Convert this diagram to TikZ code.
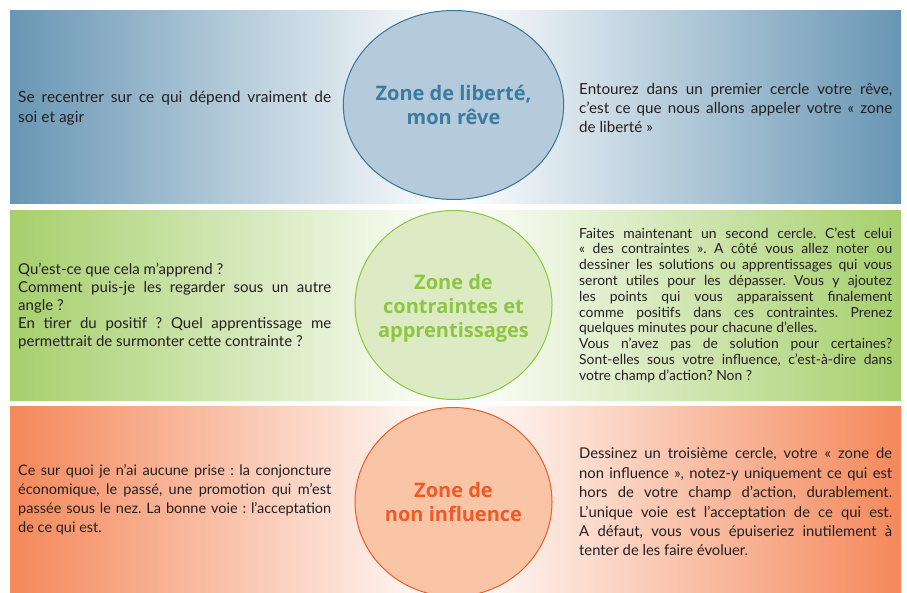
\documentclass[tikz,border=0pt]{standalone}
\usepackage{fontspec}
\setmainfont{Lato}
\newfontfamily\titlefont{Open Sans}
\usetikzlibrary{shapes.geometric}
\definecolor{bandblue}{HTML}{6896B4}
\definecolor{bandgreen}{HTML}{A6CF6C}
\definecolor{bandorange}{HTML}{F4885A}
\definecolor{circblue}{HTML}{B5CADB}
\definecolor{circgreen}{HTML}{DCEBC4}
\definecolor{circorange}{HTML}{FAC5A6}
\definecolor{edgeblue}{HTML}{3B7597}
\definecolor{edgegreen}{HTML}{8DC63F}
\definecolor{edgeorange}{HTML}{EF5A28}
\definecolor{titleblue}{HTML}{3B7BA0}
\definecolor{titlegreen}{HTML}{8DC63F}
\definecolor{titleorange}{HTML}{F15A24}
\definecolor{txt}{HTML}{231F20}
\tikzset{
  zone/.style={ellipse, minimum width=197pt, minimum height=189pt, inner sep=0pt, line width=1pt, align=center, font=\titlefont\fontsize{20}{24}\selectfont\bfseries},
  desc/.style 2 args={anchor=west, inner sep=0pt, text width=313pt, align=justify, text=txt, font=\fontsize{#1}{#2}\selectfont\frenchspacing}
}
\begin{document}
\begin{tikzpicture}[x=1pt,y=-1pt]
        \useasboundingbox[fill=white] (0,0) rectangle (907,592);

        \shade[left color=bandblue, right color=white] (10,10) rectangle (453.5,203);
        \shade[left color=white, right color=bandblue] (453.5,10) rectangle (901,203);
        \shade[left color=bandgreen, right color=white] (10,210) rectangle (453.5,400);
        \shade[left color=white, right color=bandgreen] (453.5,210) rectangle (901,400);
        \shade[left color=bandorange, right color=white] (10,406) rectangle (453.5,592);
        \shade[left color=white, right color=bandorange] (453.5,406) rectangle (901,592);

        \node[zone, fill=circblue, draw=edgeblue, text=titleblue] (liberte) at (453.5,105) {Zone de liberté,\\mon rêve};
        \node[zone, fill=circgreen, draw=edgegreen, text=titlegreen] (contraintes) at (453.5,305) {};
        \node[zone, text=titlegreen] (contraintestitre) at (453.5,308) {Zone de\\contraintes et\\apprentissages};
        \node[zone, fill=circorange, draw=edgeorange, text=titleorange] (influence) at (453.5,502) {Zone de\\non influence};

        \node[desc={15.5}{20}] (liberteg) at (18,108) {Se recentrer sur ce qui dépend vraiment de\linebreak soi et agir};
        \node[desc={15.2}{19}] (liberted) at (579,108) {Entourez dans un premier cercle votre rêve,\linebreak c’est ce que nous allons appeler votre «~zone\linebreak de liberté~»};
        \node[desc={15}{18}] (contraintesg) at (18,306) {Qu’est-ce que cela m’apprend~?\newline Comment puis-je les regarder sous un autre\linebreak angle~?\newline En tirer du positif~? Quel apprentissage me\linebreak permettrait de surmonter cette contrainte~?};
        \node[desc={13.9}{15.8}] (contraintesd) at (579,305) {Faites maintenant un second cercle. C’est celui\linebreak «~des contraintes~». A côté vous allez noter ou\linebreak dessiner les solutions ou apprentissages qui vous\linebreak seront utiles pour les dépasser. Vous y ajoutez\linebreak les points qui vous apparaissent finalement\linebreak comme positifs dans ces contraintes. Prenez\linebreak quelques minutes pour chacune d’elles.\newline Vous n’avez pas de solution pour certaines?\linebreak Sont-elles sous votre influence, c’est-à-dire dans\linebreak votre champ d’action? Non~?};
        \node[desc={14.5}{19}] (influenceg) at (18,500) {Ce sur quoi je n’ai aucune prise~: la conjoncture\linebreak économique, le passé, une promotion qui m’est\linebreak passée sous le nez. La bonne voie~: l’acceptation\linebreak de ce qui est.};
        \node[desc={14.8}{19.4}] (influenced) at (579,502) {Dessinez un troisième cercle, votre «~zone de\linebreak non influence~», notez-y uniquement ce qui est\linebreak hors de votre champ d’action, durablement.\linebreak L’unique voie est l’acceptation de ce qui est.\linebreak A défaut, vous vous épuiseriez inutilement à\linebreak tenter de les faire évoluer.};

    \end{tikzpicture}
\end{document}
